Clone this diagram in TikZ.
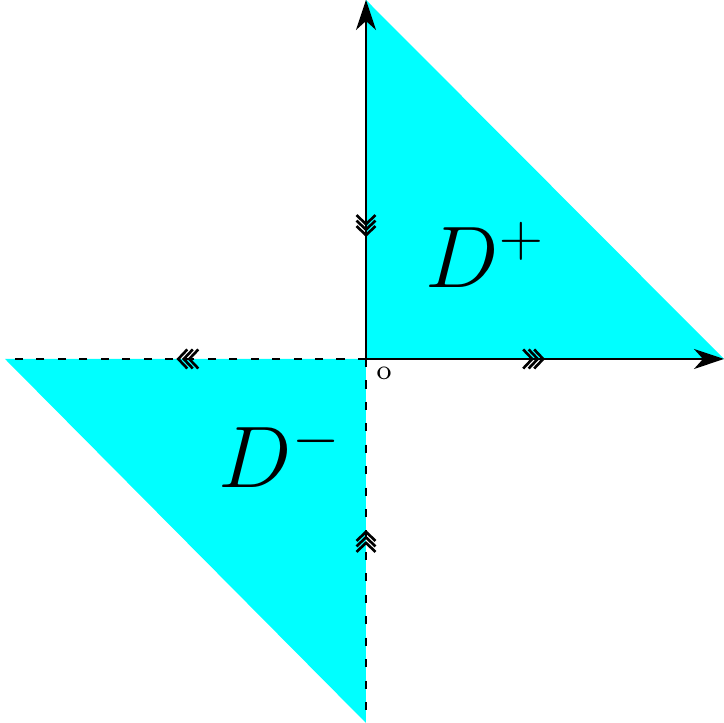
\documentclass[tikz,border=0pt]{standalone}
\usepackage{amsmath,amssymb}
\usetikzlibrary{arrows.meta,decorations.markings}
\definecolor{aqua}{RGB}{0,255,255}
\newcommand{\trichev}{\foreach \s in {0,0.55,1.1} {\draw[line width=0.75pt, solid, arrows=-] ([xshift=-\s mm]-0.9mm,0.95mm) -- ([xshift=-\s mm]0,0) -- ([xshift=-\s mm]-0.9mm,-0.95mm);}}
\begin{document}
\begin{tikzpicture}[
  axis/.style={line width=0.6pt, -{Stealth[length=3mm, width=2mm, inset=0.9mm]}},
  half/.style={line width=0.6pt, dash pattern=on 2.3pt off 3.8pt},
  region/.style={fill=aqua, draw=none},
  fwd/.style={postaction={decorate}, decoration={markings, mark=at position #1 with {\trichev}}},
  bwd/.style={postaction={decorate}, decoration={markings, mark=at position #1 with {\begin{scope}[xscale=-1]\trichev\end{scope}}}},
  lab/.style={inner sep=0pt, anchor=base west, font=\fontsize{23}{27}\selectfont}
]
\useasboundingbox (-3.66,-3.64) rectangle (3.58,3.59);
\coordinate (O) at (0,0);
\coordinate (top) at (0,3.59);
\coordinate (right) at (3.58,0);
\coordinate (left) at (-3.61,0);
\coordinate (bottom) at (0,-3.64);
% the two regions
\fill[region] (O) -- (top) -- (right) -- cycle;
\fill[region] (O) -- (left) -- (bottom) -- cycle;
% boundary
\draw[axis, bwd=0.345] (O) -- (top);
\draw[axis, fwd=0.495] (O) -- (right);
\draw[half, fwd=0.52] (O) -- (left);
\draw[half, bwd=0.475] (O) -- (bottom);
\node[lab] (dplus) at (0.59,0.71) {$D^+$};
\node[lab] (dminus) at (-1.48,-1.29) {$D^-$};
\node[inner sep=0pt, font=\fontsize{8}{9}\selectfont] (orig) at (0.18,-0.14) {o};
\end{tikzpicture}
\end{document}
